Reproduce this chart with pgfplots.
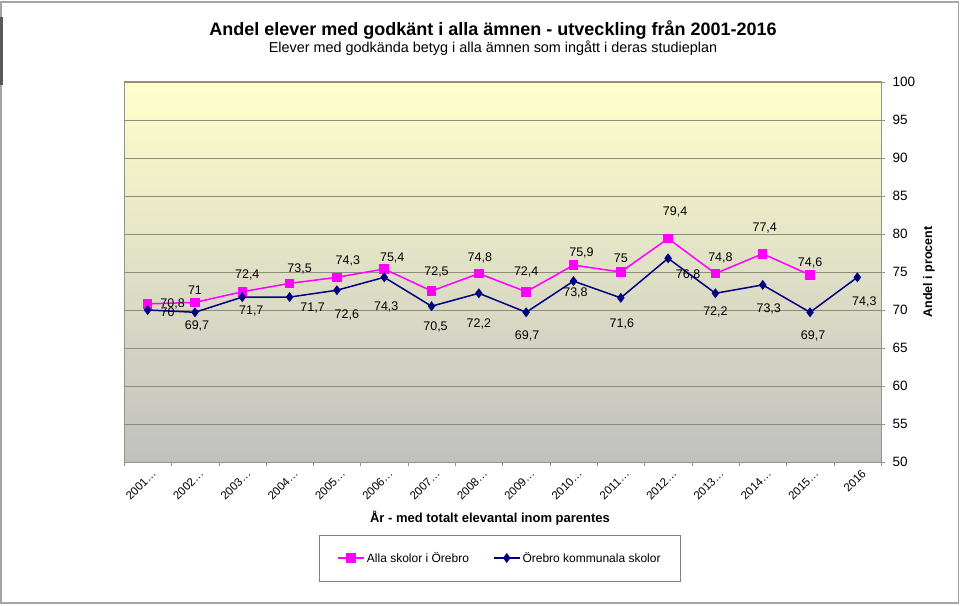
\documentclass[border=0pt]{standalone}
\usepackage{fontspec}
\setmainfont{Liberation Sans}
\usepackage{pgfplots}
\pgfplotsset{compat=1.18}
\usepackage{pgfplotstable}

\definecolor{pinkc}{RGB}{255,0,255}
\definecolor{navyc}{RGB}{0,0,128}
\definecolor{gridc}{RGB}{140,140,122}
\definecolor{axisc}{RGB}{150,148,130}
\definecolor{framec}{RGB}{165,165,165}
\definecolor{topc}{RGB}{255,255,204}
\definecolor{botc}{RGB}{192,192,192}

\pgfplotstableread{
x y lbl dx dy
0 70.8 70,8 25 0
1 71.0 71 0 12
2 72.4 72,4 5 17
3 73.5 73,5 10 14
4 74.3 74,3 11 16
5 75.4 75,4 8 11
6 72.5 72,5 5 19
7 74.8 74,8 1 16
8 72.4 72,4 0 20
9 75.9 75,9 8 12
10 75.0 75 0 14
11 79.4 79,4 7 27
12 74.8 74,8 5 16
13 77.4 77,4 2 26
14 74.6 74,6 0 12
}\pinkdata

\pgfplotstableread{
x y lbl dx dy
0 70.0 70 20 -2
1 69.7 69,7 2 -14
2 71.7 71,7 9 -14
3 71.7 71,7 23 -11
4 72.6 72,6 10 -25
5 74.3 74,3 2 -30
6 70.5 70,5 4 -21
7 72.2 72,2 0 -31
8 69.7 69,7 1 -24
9 73.8 73,8 2 -12
10 71.6 71,6 1 -26
11 76.8 76,8 20 -17
12 72.2 72,2 0 -19
13 73.3 73,3 6 -24
14 69.7 69,7 3 -24
15 74.3 74,3 7 -25
}\navydata

\begin{document}
\begin{tikzpicture}[x=1pt,y=1pt]
\path[use as bounding box] (0,0) rectangle (960,605);
\fill[white] (0,0) rectangle (960,605);
\begin{axis}[
  at={(124pt,143pt)}, anchor=south west,
  scale only axis, width=757pt, height=380pt,
  xmin=-0.5, xmax=15.5, ymin=50, ymax=100,
  xtick={0,...,15},
  xticklabels={2001…,2002…,2003…,2004…,2005…,2006…,2007…,2008…,2009…,2010…,2011…,2012…,2013…,2014…,2015…,2016},
  minor xtick={-0.5,0.5,...,15.5},
  major x tick style={draw=none},
  xtick pos=bottom,
  ytick={50,55,...,100},
  ytick pos=right, yticklabel pos=right,
  tick align=outside, major tick length=4pt, minor tick length=4pt,
  tick style={axisc},
  ymajorgrids, grid style={gridc, line width=0.8pt},
  axis line style={axisc, line width=1pt},
  axis background/.style={shade, top color=topc, bottom color=botc},
  /pgf/number format/assume math mode=true,
  yticklabel style={font=\fontsize{13.5}{16}\selectfont, xshift=4pt},
  xticklabel style={font=\fontsize{11.5}{13}\selectfont, rotate=45, anchor=north east, xshift=4pt, yshift=-1pt},
  legend columns=2,
  legend cell align=left,
  legend style={at={(axis description cs:0.4967,-0.2526)}, anchor=center,
    draw=gray, fill=white, font=\fontsize{12}{14}\selectfont,
    inner xsep=18pt, inner ysep=15.5pt,
    /tikz/every even column/.append style={column sep=22pt}},
  legend image code/.code={\draw[mark repeat=2,mark phase=2] plot coordinates {(0pt,0pt) (13pt,0pt) (26pt,0pt)};},
]
\addplot[pinkc, line width=1.5pt, mark=square*, mark size=4pt, mark options={fill=pinkc, draw=pinkc},
  nodes near coords, point meta=explicit symbolic,
  visualization depends on={\thisrow{dx} \as \myDX},
  visualization depends on={\thisrow{dy} \as \myDY},
  every node near coord/.append style={anchor=center, text=black, inner sep=0pt,
    font=\fontsize{12.5}{14}\selectfont, xshift=\myDX pt, yshift=\myDY pt}]
  table[x=x, y=y, meta=lbl] {\pinkdata};
\addlegendentry{Alla skolor i Örebro}
\addplot[navyc, line width=1.5pt, mark=diamond*, mark size=3.8pt, mark options={fill=navyc, draw=navyc},
  nodes near coords, point meta=explicit symbolic,
  visualization depends on={\thisrow{dx} \as \myDX},
  visualization depends on={\thisrow{dy} \as \myDY},
  every node near coord/.append style={anchor=center, text=black, inner sep=0pt,
    font=\fontsize{12.5}{14}\selectfont, xshift=\myDX pt, yshift=\myDY pt}]
  table[x=x, y=y, meta=lbl] {\navydata};
\addlegendentry{Örebro kommunala skolor}
\end{axis}
\node[anchor=base, font=\fontsize{18}{21}\selectfont\bfseries] at (493,569) {Andel elever med godkänt i alla ämnen - utveckling från 2001-2016};
\node[anchor=base, font=\fontsize{14.4}{17}\selectfont] at (493,552) {Elever med godkända betyg i alla ämnen som ingått i deras studieplan};
\node[anchor=base, font=\fontsize{13}{16}\selectfont\bfseries] at (490,83) {År - med totalt elevantal inom parentes};
\node[rotate=90, font=\fontsize{12.5}{15}\selectfont\bfseries] at (929,333) {Andel i procent};
\draw[framec, line width=1.5pt] (1,2) rectangle (958.5,603);
\fill[black!65] (0,520) rectangle (3,588);
\end{tikzpicture}
\end{document}
